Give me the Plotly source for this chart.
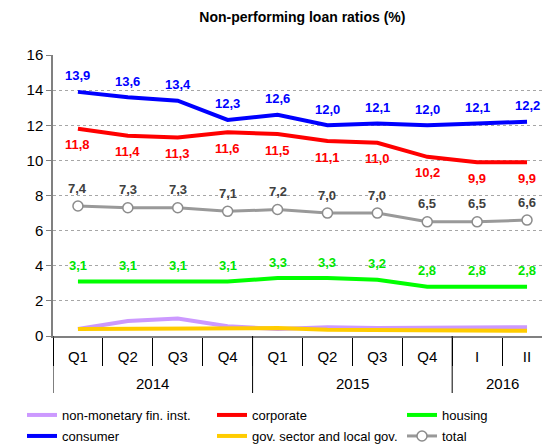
import plotly.graph_objects as go

years = ["2014", "2014", "2014", "2014", "2015", "2015", "2015", "2015", "2016", "2016"]
periods = ["Q1", "Q2", "Q3", "Q4", "Q1", "Q2", "Q3", "Q4", "I", "II"]

non_monetary = [0.4, 0.85, 1.0, 0.55, 0.4, 0.5, 0.45, 0.45, 0.5, 0.5]
corporate = [11.8, 11.4, 11.3, 11.6, 11.5, 11.1, 11.0, 10.2, 9.9, 9.9]
housing = [3.1, 3.1, 3.1, 3.1, 3.3, 3.3, 3.2, 2.8, 2.8, 2.8]
consumer = [13.9, 13.6, 13.4, 12.3, 12.6, 12.0, 12.1, 12.0, 12.1, 12.2]
gov_sector = [0.4, 0.4, 0.4, 0.45, 0.45, 0.35, 0.35, 0.3, 0.3, 0.3]
total = [7.4, 7.3, 7.3, 7.1, 7.2, 7.0, 7.0, 6.5, 6.5, 6.6]

y_ticks = [0, 2, 4, 6, 8, 10, 12, 14, 16]

FONT = "Liberation Sans, Arial, sans-serif"
W, H = 542, 444
ML, MT, MB = 53, 55, 108
PLOT_H = H - MT - MB
xi = list(range(len(periods)))

fig = go.Figure()

def add_line(name, vals, color, legend, width=4, markers=False):
    kw = dict(mode="lines")
    if markers:
        kw = dict(mode="lines+markers",
                  marker=dict(symbol="circle", size=10, color="white",
                              line=dict(color="#8c8c8c", width=1.5)))
    fig.add_trace(go.Scatter(x=xi, y=vals, name=name, legend=legend,
                             line=dict(color=color, width=width), **kw))

add_line("non-monetary fin. inst.", non_monetary, "#CC99FF", "legend")
add_line("corporate", corporate, "#FF0000", "legend2")
add_line("housing", housing, "#00FF00", "legend3")
add_line("consumer", consumer, "#0000FF", "legend4")
add_line("gov. sector and local gov.", gov_sector, "#FFCC00", "legend5")
add_line("total", total, "#999999", "legend6", width=3, markers=True)

def fmt(v):
    return f"{v:.1f}".replace(".", ",")

label_sets = [
    (consumer, "#0000FF", 16),
    (corporate, "#FF0000", -16),
    (total, "#404040", 18),
    (housing, "#00E600", 16),
]
for vals, color, shift in label_sets:
    for i, v in enumerate(vals):
        fig.add_annotation(x=i, y=v, xref="x", yref="y", text=fmt(v),
                           showarrow=False, yshift=shift,
                           font=dict(family=FONT, size=13, color=color, weight="bold"))

# year group labels and dividers (from the years array)
groups = []
start = 0
for i in range(1, len(years) + 1):
    if i == len(years) or years[i] != years[start]:
        groups.append((years[start], start, i - 1))
        start = i
for name, a, b in groups:
    fig.add_annotation(x=(a + b) / 2, y=-48 / PLOT_H, xref="x", yref="paper",
                       text=name, showarrow=False, yanchor="middle",
                       font=dict(family=FONT, size=15, color="#000000"))
    fig.add_shape(type="line", x0=a - 0.5, x1=a - 0.5, y0=0, y1=-57 / PLOT_H,
                  xref="x", yref="paper", line=dict(color="#000000", width=1))

leg_common = dict(orientation="v", xref="container", yref="container",
                  xanchor="left", yanchor="middle", itemwidth=30,
                  font=dict(family=FONT, size=13, color="#000000"),
                  bgcolor="rgba(0,0,0,0)")
col_x = [22, 212, 402]
row_y = [415, 436]
legends = {}
k = 0
for r in range(2):
    for c in range(3):
        key = "legend" if k == 0 else f"legend{k + 1}"
        legends[key] = dict(x=col_x[c] / W, y=1 - row_y[r] / H, **leg_common)
        k += 1

fig.update_layout(
    width=W, height=H,
    margin=dict(l=ML, r=0, t=MT, b=MB, autoexpand=False),
    paper_bgcolor="white", plot_bgcolor="white",
    font=dict(family=FONT, color="#000000"),
    title=dict(text="<b>Non-performing loan ratios (%)</b>", x=0.51, xref="paper",
               xanchor="center", y=0.962, yanchor="middle",
               font=dict(family=FONT, size=14, color="#000000")),
    showlegend=True,
    **legends,
)

fig.update_xaxes(
    range=[-0.5, 9.3], tickvals=xi, ticktext=periods,
    showline=True, linecolor="#808080", linewidth=1.5,
    ticks="", ticklabelstandoff=6,
    minor=dict(tick0=-0.5, dtick=1, ticks="outside", ticklen=28,
               tickcolor="#000000", tickwidth=1, showgrid=False),
    showgrid=False, zeroline=False,
    tickfont=dict(family=FONT, size=15, color="#000000"),
)
fig.update_yaxes(
    range=[0, 16], tickvals=y_ticks, ticktext=[str(t) for t in y_ticks],
    showline=True, linecolor="#808080", linewidth=1.5,
    ticks="outside", ticklen=5, tickcolor="#808080",
    showgrid=True, gridcolor="#A6A6A6", gridwidth=1, griddash="dot",
    zeroline=False, tickfont=dict(family=FONT, size=15, color="#000000"),
)

fig.write_html("out.html", config={"displayModeBar": False},
               post_script="document.body.style.margin='0';document.body.style.padding='0';")
